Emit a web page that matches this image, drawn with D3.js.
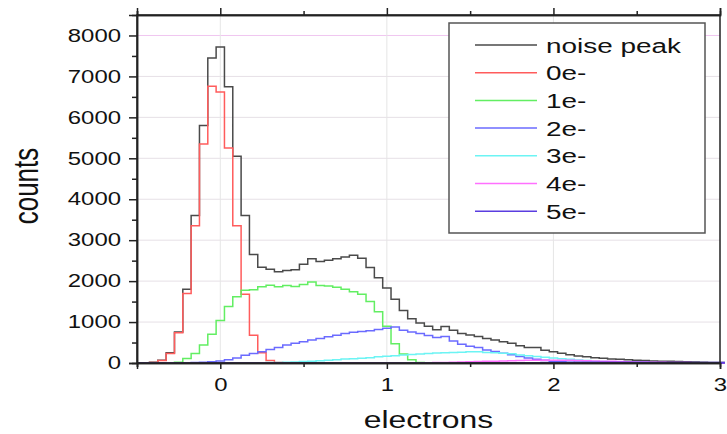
<!DOCTYPE html>
<html>
<head>
<meta charset="utf-8">
<style>
  body { margin: 0; background: #fff; }
  text { font-family: "Liberation Sans", Arial, sans-serif; fill: #111; }
</style>
</head>
<body>
<script src="https://d3js.org/d3.v7.min.js"></script>
<script>
// bin width of the histograms (electrons)
var binWidth = 0.05;

// each series: first bin centre + counts per bin
var noiseStart = -0.4;
var noiseCounts = [20, 70, 250, 760, 1800, 3600, 5800, 7450, 7720, 6750, 5050, 3600, 2650, 2340,
  2290, 2230, 2260, 2280, 2410, 2545, 2480, 2510, 2545, 2590, 2630, 2560, 2330, 2085, 1830,
  1560, 1280, 1080, 980, 900, 810, 890, 800, 720, 685, 650, 600, 560, 520, 480, 420, 380,
  380, 310, 275, 240, 200, 170, 150, 130, 115, 100, 90, 80, 70, 60, 50, 45, 40, 35, 30, 25,
  20, 15, 12];

var e0Start = -0.4;
var e0Counts = [10, 60, 230, 740, 1700, 3350, 5350, 6760, 6620, 5250, 3350, 1680, 680, 250, 60, 10];

var e1Start = -0.25;
var e1Counts = [20, 110, 235, 440, 700, 1040, 1380, 1620, 1780, 1790, 1860, 1900, 1860, 1890,
  1870, 1920, 1980, 1890, 1880, 1850, 1800, 1740, 1680, 1500, 1250, 900, 470, 220, 80, 15];

var e2Start = -0.15;
var e2Counts = [10, 20, 30, 50, 80, 120, 190, 230, 275, 330, 380, 440, 480, 520, 560, 600, 640,
  680, 720, 750, 770, 790, 820, 850, 880, 800, 760, 720, 670, 620, 650, 540, 460, 410, 380,
  320, 280, 240, 200, 160, 120, 90, 65, 45, 30, 20, 15, 10, 5];

var e3Start = 0.25;
var e3Counts = [5, 10, 15, 20, 25, 35, 45, 55, 70, 80, 95, 105, 115, 130, 150, 165, 180, 195,
  205, 220, 235, 245, 250, 255, 265, 275, 275, 255, 250, 240, 225, 195, 175, 160, 140, 125,
  105, 90, 75, 60, 45, 35, 25, 20, 15, 10, 5];

var e4Start = 1.2;
var e4Counts = [5, 8, 10, 15, 20, 25, 30, 35, 40, 45, 50, 55, 60, 65, 70, 70, 70, 68, 65, 60,
  55, 50, 45, 40, 35, 30, 25, 22, 20, 18, 15, 12, 10, 8, 5, 5, 4];

var e5Start = 1.8;
var e5Counts = [5, 6, 8, 10, 12, 14, 15, 16, 18, 20, 20, 20, 20, 19, 18, 16, 15, 14, 12, 11, 10, 10, 10, 10, 10];

var seriesNames = ["noise peak", "0e-", "1e-", "2e-", "3e-", "4e-", "5e-"];
var seriesColors = ["#4a4a4a", "#ff5c5c", "#62ee62", "#6b6bff", "#6cf4f4", "#ff70ff", "#5a3de0"];

var xTicks = [0, 1, 2, 3];
var xMinorTicks = [-0.5, 0.5, 1.5, 2.5];
var yTicks = [0, 1000, 2000, 3000, 4000, 5000, 6000, 7000, 8000];
var yMinorTicks = [500, 1500, 2500, 3500, 4500, 5500, 6500, 7500];

var W = 727, H = 434;
var plotLeft = 137, plotRight = 720, plotTop = 15, plotBottom = 363;
var sx = 1.33; // the original picture is stretched horizontally

var x = d3.scaleLinear().domain([-0.5, 3]).range([plotLeft, plotRight]);
var y = d3.scaleLinear().domain([0, 8500]).range([plotBottom, plotTop]);

var svg = d3.select("body").append("svg")
  .attr("width", W)
  .attr("height", H);

// grid
svg.append("g").selectAll("line").data(yTicks.slice(1)).enter().append("line")
  .attr("x1", plotLeft).attr("x2", plotRight)
  .attr("y1", function (d) { return y(d); })
  .attr("y2", function (d) { return y(d); })
  .attr("stroke", function (d) { return d == 8000 ? "#f0c6f0" : "#e6e0e6"; })
  .attr("stroke-width", 1);

svg.append("g").selectAll("line").data([0, 1, 2]).enter().append("line")
  .attr("x1", function (d) { return x(d); })
  .attr("x2", function (d) { return x(d); })
  .attr("y1", plotTop).attr("y2", plotBottom)
  .attr("stroke", "#e6e6e6")
  .attr("stroke-width", 1);

// histogram outlines
function toPoints(start, counts) {
  var pts = [];
  // pad with zeros so the steps start and end on the baseline
  pts.push([-0.5, 0]);
  pts.push([start - binWidth, 0]);
  counts.forEach(function (c, i) { pts.push([start + i * binWidth, c]); });
  var end = start + counts.length * binWidth;
  pts.push([end, 0]);
  pts.push([3.0, 0]);
  return pts;
}

var allSeries = [
  toPoints(noiseStart, noiseCounts),
  toPoints(e0Start, e0Counts),
  toPoints(e1Start, e1Counts),
  toPoints(e2Start, e2Counts),
  toPoints(e3Start, e3Counts),
  toPoints(e4Start, e4Counts),
  toPoints(e5Start, e5Counts)
];

var line = d3.line()
  .x(function (d) { return x(d[0]); })
  .y(function (d) { return y(d[1]); })
  .curve(d3.curveStep);

svg.append("g").selectAll("path").data(allSeries).enter().append("path")
  .attr("d", line)
  .attr("fill", "none")
  .attr("stroke", function (d, i) { return seriesColors[i]; })
  .attr("stroke-width", 1.5);

// frame
svg.append("rect")
  .attr("x", plotLeft).attr("y", plotTop)
  .attr("width", plotRight - plotLeft).attr("height", plotBottom - plotTop)
  .attr("fill", "none")
  .attr("stroke", "#222")
  .attr("stroke-width", 1.5);

// bottom axis
var xAxis = svg.append("g").attr("transform", "translate(0," + plotBottom + ")")
  .call(d3.axisBottom(x).tickValues(xTicks).tickSize(6).tickPadding(9).tickFormat(d3.format("d")));
svg.append("g").attr("transform", "translate(0," + plotBottom + ")")
  .call(d3.axisBottom(x).tickValues(xMinorTicks).tickSize(4).tickFormat(""));

// top axis ticks
svg.append("g").attr("transform", "translate(0," + plotTop + ")")
  .call(d3.axisTop(x).tickValues(xTicks).tickSize(7).tickFormat(""));
svg.append("g").attr("transform", "translate(0," + plotTop + ")")
  .call(d3.axisTop(x).tickValues(xMinorTicks).tickSize(4).tickFormat(""));

// left axis
var yAxis = svg.append("g").attr("transform", "translate(" + plotLeft + ",0)")
  .call(d3.axisLeft(y).tickValues(yTicks).tickSize(8).tickPadding(8).tickFormat(d3.format("d")));
svg.append("g").attr("transform", "translate(" + plotLeft + ",0)")
  .call(d3.axisLeft(y).tickValues(yMinorTicks).tickSize(5).tickFormat(""));

svg.selectAll(".domain").attr("stroke", "#222").attr("stroke-width", 1.5);
svg.selectAll(".tick line").attr("stroke", "#222").attr("stroke-width", 1.5);

xAxis.selectAll("text")
  .attr("font-size", 18)
  .attr("font-family", "Liberation Sans, Arial, sans-serif")
  .attr("fill", "#111")
  .attr("transform", "scale(" + sx + ",1)");

yAxis.selectAll("text")
  .attr("font-size", 18)
  .attr("font-family", "Liberation Sans, Arial, sans-serif")
  .attr("fill", "#111")
  .attr("x", -16 / sx)
  .attr("transform", "scale(" + sx + ",1)");

// axis titles
svg.append("text")
  .attr("transform", "translate(" + ((plotLeft + plotRight) / 2) + ",428) scale(" + sx + ",1)")
  .attr("text-anchor", "middle")
  .attr("font-size", 24)
  .text("electrons");

svg.append("text")
  .attr("transform", "translate(38,186) scale(" + sx + ",1) rotate(-90)")
  .attr("text-anchor", "middle")
  .attr("font-size", 26)
  .text("counts");

// legend
var legend = svg.append("g");
legend.append("rect")
  .attr("x", 449).attr("y", 23)
  .attr("width", 256).attr("height", 210)
  .attr("fill", "#fff")
  .attr("stroke", "#555")
  .attr("stroke-width", 1.5);

var rows = legend.selectAll("g.row").data(seriesNames).enter().append("g")
  .attr("class", "row")
  .attr("transform", function (d, i) { return "translate(0," + (45 + i * 27.7) + ")"; });

rows.append("line")
  .attr("x1", 475).attr("x2", 537)
  .attr("y1", 0).attr("y2", 0)
  .attr("stroke", function (d, i) { return seriesColors[i]; })
  .attr("stroke-width", 1.5);

rows.append("text")
  .attr("transform", "translate(546,0) scale(" + sx + ",1)")
  .attr("dy", "0.36em")
  .attr("font-size", 21)
  .text(function (d) { return d; });
</script>
</body>
</html>
